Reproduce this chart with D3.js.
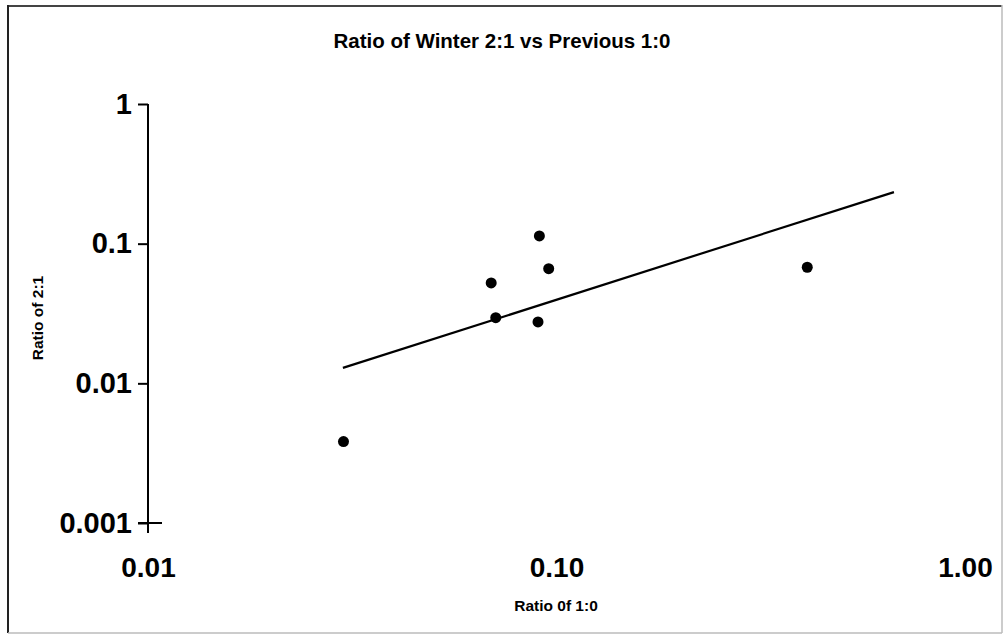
<!DOCTYPE html>
<html><head><meta charset="utf-8">
<script src="https://cdn.jsdelivr.net/npm/d3@7"></script>
<style>
html,body{margin:0;padding:0;background:#fff;}
text{font-family:"Liberation Sans",Arial,sans-serif;font-weight:bold;fill:#000;}
</style></head>
<body><svg id="c" width="1004" height="635"></svg>
<script>
const titleText = "Ratio of Winter 2:1 vs Previous 1:0";
const xTitle = "Ratio 0f 1:0";
const yTitle = "Ratio of 2:1";
const xTickValues = [0.01, 0.1, 1];
const xTickLabels = ["0.01", "0.10", "1.00"];
const yTickValues = [0.001, 0.01, 0.1, 1];
const yTickLabels = ["0.001", "0.01", "0.1", "1"];
const pointsX = [0.0908, 0.0957, 0.0692, 0.0710, 0.0901, 0.411, 0.0301];
const pointsY = [0.1135, 0.0662, 0.0523, 0.0295, 0.0275, 0.0678, 0.00383];
const trendX = [0.0300, 0.670];
const trendY = [0.0129, 0.234];

const svg = d3.select("#c");
const x = d3.scaleLog().domain([0.01, 1]).range([148, 965]);
const y = d3.scaleLog().domain([0.001, 1]).range([523, 104]);

// chart border
svg.append("line").attr("x1",8).attr("x2",1002).attr("y1",6).attr("y2",6).attr("stroke","#444").attr("stroke-width",2);
svg.append("line").attr("x1",8).attr("x2",8).attr("y1",5).attr("y2",633).attr("stroke","#222").attr("stroke-width",2);
svg.append("line").attr("x1",1002).attr("x2",1002).attr("y1",5).attr("y2",633).attr("stroke","#bbb").attr("stroke-width",1.5);
svg.append("line").attr("x1",8).attr("x2",1002).attr("y1",633).attr("y2",633).attr("stroke","#bbb").attr("stroke-width",1.5);

// title
svg.append("text").attr("x",502).attr("y",48).attr("text-anchor","middle").attr("font-size",20.5).text(titleText);

// y axis
const yAxis = d3.axisLeft(y).tickValues(yTickValues).tickSize(10).tickPadding(6)
  .tickFormat((d,i)=>yTickLabels[i]);
const gy = svg.append("g").attr("transform","translate(148,0)").call(yAxis);
gy.select(".domain").attr("d","M0,104V523").attr("stroke","#000").attr("stroke-width",2);
gy.selectAll(".tick line").attr("stroke","#000").attr("stroke-width",2);
gy.selectAll(".tick text").attr("font-size",29).attr("font-family","Liberation Sans, Arial, sans-serif").attr("font-weight","bold").attr("fill","#000");

// x axis
const xAxis = d3.axisBottom(x).tickValues(xTickValues).tickSize(0).tickPadding(34)
  .tickFormat((d,i)=>xTickLabels[i]);
const gx = svg.append("g").attr("transform","translate(0,523)").call(xAxis);
gx.select(".domain").remove();
gx.selectAll(".tick line").remove();
gx.selectAll(".tick text").attr("font-size",28).attr("font-family","Liberation Sans, Arial, sans-serif").attr("font-weight","bold").attr("fill","#000");
svg.append("line").attr("x1",138).attr("x2",162).attr("y1",523).attr("y2",523).attr("stroke","#000").attr("stroke-width",2);
svg.append("line").attr("x1",148).attr("x2",148).attr("y1",523).attr("y2",533).attr("stroke","#000").attr("stroke-width",2);

// axis titles
svg.append("text").attr("x",556).attr("y",611).attr("text-anchor","middle").attr("font-size",15.5).text(xTitle);
svg.append("text").attr("transform","translate(43,318) rotate(-90)").attr("text-anchor","middle").attr("font-size",15.5).text(yTitle);

// trend line
svg.append("path").datum(trendX.map((d,i)=>[d,trendY[i]]))
  .attr("d", d3.line().x(d=>x(d[0])).y(d=>y(d[1])))
  .attr("fill","none").attr("stroke","#000").attr("stroke-width",2.2);

// points
svg.selectAll("circle.pt").data(pointsX.map((d,i)=>[d,pointsY[i]])).enter()
  .append("circle").attr("class","pt").attr("cx",d=>x(d[0])).attr("cy",d=>y(d[1])).attr("r",5.5).attr("fill","#000");
</script></body></html>
